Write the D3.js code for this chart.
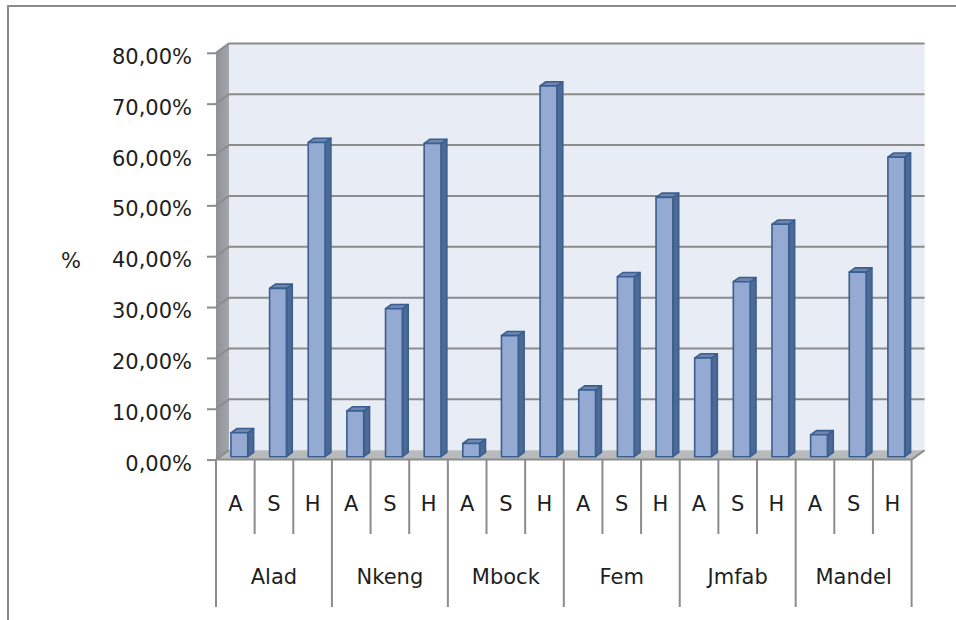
<!DOCTYPE html>
<html>
<head>
<meta charset="utf-8">
<script src="https://cdn.jsdelivr.net/npm/d3@7"></script>
<style>
  body { margin: 0; background: #ffffff; }
  svg { display: block; }
  text { font-family: "DejaVu Sans", Verdana, sans-serif; fill: #1e1e1e; }
</style>
</head>
<body>
<svg id="chart" width="956" height="620"></svg>
<script>
// Categories (outer groups and inner series letters)
const groups = ["Alad", "Nkeng", "Mbock", "Fem", "Jmfab", "Mandel"];
const series = ["A", "S", "H"];

// Shares per group, one array per series
const valuesA = [0.047, 0.090, 0.026, 0.131, 0.194, 0.043];
const valuesS = [0.331, 0.291, 0.238, 0.354, 0.344, 0.363];
const valuesH = [0.618, 0.616, 0.729, 0.510, 0.457, 0.589];

// Value axis ticks
const yTicks = [0, 0.1, 0.2, 0.3, 0.4, 0.5, 0.6, 0.7, 0.8];
const yTitle = "%";

const seriesValues = [valuesA, valuesS, valuesH];
const rows = groups.flatMap((g, i) =>
  series.map((s, j) => ({ group: g, gi: i, series: s, si: j, key: g + "|" + s, value: seriesValues[j][i] }))
);

const svg = d3.select("#chart");

// Outer chart frame (runs off the right and bottom edges)
svg.append("rect")
  .attr("x", 8).attr("y", 6).attr("width", 1100).attr("height", 800)
  .attr("fill", "none").attr("stroke", "#8a8a8a").attr("stroke-width", 2);

// Front plane geometry and perspective depth offset
const x0 = 216, x1 = 911.6;
const DX = 13, DY = 9.4;
const y = d3.scaleLinear().domain([0, 0.8]).range([459.6, 52.8]);
const x = d3.scaleBand().domain(rows.map(d => d.key)).range([x0, x1]);
const ptStr = pts => pts.map(p => p.join(",")).join(" ");

const yTop = y(0.8), yZero = y(0);

// Back wall
svg.append("polygon")
  .attr("points", ptStr([[x0 + DX, yTop - DY], [x1 + DX, yTop - DY], [x1 + DX, yZero - DY], [x0 + DX, yZero - DY]]))
  .attr("fill", "#e8ecf5");

// Side wall
const wallGrad = svg.append("defs").append("linearGradient").attr("id", "wallGrad")
  .attr("x1", 0).attr("x2", 1).attr("y1", 0).attr("y2", 0);
wallGrad.append("stop").attr("offset", 0).attr("stop-color", "#8e9196");
wallGrad.append("stop").attr("offset", 1).attr("stop-color", "#a3a6aa");
svg.append("polygon")
  .attr("points", ptStr([[x0, yTop], [x0 + DX, yTop - DY], [x0 + DX, yZero - DY], [x0, yZero]]))
  .attr("fill", "url(#wallGrad)");

// Floor
svg.append("polygon")
  .attr("points", ptStr([[x0, yZero], [x0 + DX, yZero - DY], [x1 + DX, yZero - DY], [x1, yZero]]))
  .attr("fill", "#b9babc");

// Gridlines on the back wall and their diagonals across the side wall
const grid = svg.append("g").attr("stroke", "#8c8c8c").attr("stroke-width", 2).attr("fill", "none");
grid.selectAll("line.back").data(yTicks.filter(t => t > 0)).join("line")
  .attr("class", "back")
  .attr("x1", x0 + DX).attr("x2", x1 + DX)
  .attr("y1", t => y(t) - DY).attr("y2", t => y(t) - DY);
grid.selectAll("line.side").data(yTicks).join("line")
  .attr("class", "side")
  .attr("x1", x0).attr("x2", x0 + DX)
  .attr("y1", t => y(t)).attr("y2", t => y(t) - DY);
// Floor front edge and right bevel
grid.append("line").attr("x1", x0).attr("x2", x1).attr("y1", yZero).attr("y2", yZero);
grid.append("line").attr("x1", x1).attr("x2", x1 + DX).attr("y1", yZero).attr("y2", yZero - DY);

// Value axis
const locale = d3.formatLocale({ decimal: ",", thousands: ".", grouping: [3], currency: ["", " €"] });
const fmt = locale.format(".2%");
const yAxis = svg.append("g")
  .attr("transform", `translate(${x0},0)`)
  .call(d3.axisLeft(y).tickValues(yTicks).tickSize(9).tickPadding(15).tickFormat(fmt));
yAxis.select(".domain").remove();
yAxis.selectAll(".tick line").attr("stroke", "#8c8c8c").attr("stroke-width", 2);
yAxis.selectAll(".tick text")
  .attr("font-family", "DejaVu Sans, Verdana, sans-serif")
  .attr("font-size", 21).attr("fill", "#1e1e1e").attr("dy", "0.5em");

svg.append("text")
  .attr("x", 71).attr("y", 268).attr("text-anchor", "middle")
  .attr("font-size", 21).text(yTitle);

// 3D columns
const bw = x.bandwidth();
const barW = bw * 0.435;
const dFront = 0.31, dBack = 0.76;
const sx = DX * (dBack - dFront), sy = DY * (dBack - dFront);
const bars = svg.append("g").attr("stroke", "#385f8f").attr("stroke-width", 1.6).attr("stroke-linejoin", "round");
const bar = bars.selectAll("g").data(rows).join("g");
const geom = d => {
  const xl = x(d.key) + (bw - barW) / 2 + DX * dFront;
  const xr = xl + barW;
  const yb = y(0) - DY * dFront;
  const yt = y(d.value) - DY * dFront;
  return { xl, xr, yb, yt };
};
bar.append("polygon")
  .attr("fill", "#4d6a95")
  .attr("points", d => { const g = geom(d); return ptStr([[g.xr, g.yt], [g.xr + sx, g.yt - sy], [g.xr + sx, g.yb - sy], [g.xr, g.yb]]); });
bar.append("polygon")
  .attr("fill", "#6f87b0")
  .attr("points", d => { const g = geom(d); return ptStr([[g.xl, g.yt], [g.xl + sx, g.yt - sy], [g.xr + sx, g.yt - sy], [g.xr, g.yt]]); });
bar.append("rect")
  .attr("fill", "#94aad3")
  .attr("x", d => geom(d).xl).attr("y", d => geom(d).yt)
  .attr("width", barW).attr("height", d => geom(d).yb - geom(d).yt);

// Two-level category axis
const cat = svg.append("g");
const bounds = rows.map((d, i) => ({ x: x(d.key), major: i % 3 === 0 })).concat([{ x: x1, major: true }]);
cat.selectAll("line").data(bounds).join("line")
  .attr("x1", d => d.x).attr("x2", d => d.x)
  .attr("y1", yZero).attr("y2", d => d.major ? 607 : 534)
  .attr("stroke", "#8c8c8c").attr("stroke-width", 2);
cat.selectAll("text.s").data(rows).join("text")
  .attr("class", "s")
  .attr("x", d => x(d.key) + bw / 2).attr("y", 511)
  .attr("text-anchor", "middle").attr("font-size", 21)
  .text(d => d.series);
cat.selectAll("text.g").data(groups).join("text")
  .attr("class", "g")
  .attr("x", (g, i) => (x(g + "|A") + x(g + "|H") + bw) / 2).attr("y", 584)
  .attr("text-anchor", "middle").attr("font-size", 21)
  .text(g => g);
</script>
</body>
</html>
